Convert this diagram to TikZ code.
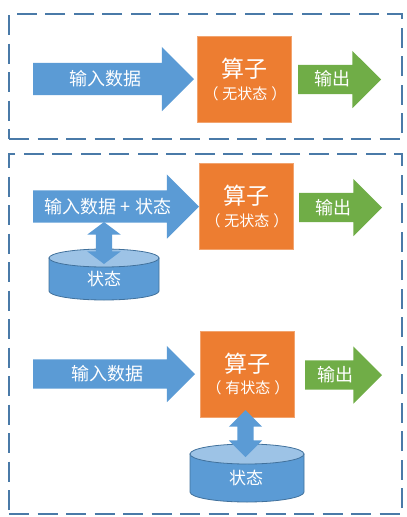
\documentclass[tikz,border=0pt]{standalone}
\usepackage{fontspec}
\setmainfont{Noto Sans CJK SC}
\usetikzlibrary{shapes.arrows}
\definecolor{inputblue}{RGB}{91,155,213}
\definecolor{capblue}{RGB}{157,195,230}
\definecolor{edgeblue}{RGB}{65,113,156}
\definecolor{framecol}{RGB}{74,122,168}
\definecolor{opfill}{RGB}{237,125,49}
\definecolor{outgreen}{RGB}{112,173,71}
\newcommand{\fs}[1]{\fontsize{#1}{#1}\selectfont}
% center x, top y, x radius, y radius, body height
\newcommand{\statedb}[5]{
  \draw[dbline,fill=inputblue] (#1-#3,#2+#4) -- ++(0,#5)
    arc[start angle=180,end angle=0,x radius=#3,y radius=#4] -- ++(0,-#5) -- cycle;
  \draw[dbline,fill=capblue] (#1,#2+#4) ellipse[x radius=#3,y radius=#4];
}
\tikzset{
  framebox/.style={draw=framecol,line width=2.2pt,dash pattern=on 20pt off 8.5pt,inner sep=0pt},
  bigarrow/.style={single arrow,anchor=tail,inner xsep=0pt,outer sep=0pt,single arrow tip angle=90},
  inarrow/.style={bigarrow,fill=inputblue},
  outarrow/.style={bigarrow,fill=outgreen},
  opbox/.style={fill=opfill,draw=opfill!70!white,line width=0.5pt,minimum width=94pt,minimum height=86pt,inner sep=0pt},
  dbline/.style={draw=edgeblue,line width=0.8pt},
  statearrow/.style={double arrow,rotate=90,fill=inputblue,inner xsep=0pt,inner ysep=8pt,outer sep=0pt,double arrow head extend=8.5pt},
  lbl/.style={text=white,inner sep=0pt},
}
\begin{document}
\begin{tikzpicture}[x=1pt,y=-1pt]
  \useasboundingbox (0,0) rectangle (407,517);
  % Dashed frames
  \node[framebox,minimum width=393pt,minimum height=125pt] (frameA) at (205.5,76.5) {};
  \node[framebox,minimum width=393pt,minimum height=360pt] (frameB) at (205.5,334) {};
  % Top row
  \node[inarrow,minimum height=161pt,inner ysep=16pt,single arrow head extend=16pt] (inA) at (33,79) {};
  \node[lbl,font=\fs{18}] (inAt) at (105,79) {输入数据};
  \node[opbox] (opA) at (244.5,79) {};
  \node[lbl,font=\fs{23}] (opAt) at (244.5,69) {算子};
  \node[lbl,font=\fs{15}] (opAs) at (245,94) {（\hspace{4pt}无状态\hspace{4pt}）};
  \node[outarrow,minimum height=83pt,inner ysep=14.5pt,single arrow head extend=14pt] (outA) at (298,79.5) {};
  \node[lbl,font=\fs{18}] (outAt) at (332,79) {输出};
  % Middle row
  \node[inarrow,minimum height=166pt,inner ysep=16pt,single arrow head extend=16pt] (inB) at (33,206.5) {};
  \node[lbl,font=\fs{18}] (inBt) at (108,207) {输入数据 + 状态};
  \node[opbox] (opB) at (246.5,206) {};
  \node[lbl,font=\fs{23}] (opBt) at (246.5,196) {算子};
  \node[lbl,font=\fs{15}] (opBs) at (247,221) {（\hspace{4pt}无状态\hspace{4pt}）};
  \node[outarrow,minimum height=83pt,inner ysep=14.5pt,single arrow head extend=14pt] (outB) at (299,207.5) {};
  \node[lbl,font=\fs{18}] (outBt) at (333,208) {输出};
  \statedb{104}{249}{55}{9}{33}
  \node[lbl,font=\fs{17}] (dbBt) at (104,279) {状态};
  \node[statearrow,minimum height=42pt,double arrow tip angle=106] (arrB) at (104,243) {};
  % Bottom row
  \node[inarrow,minimum height=162pt,inner ysep=14.5pt,single arrow head extend=13.5pt] (inC) at (33,374) {};
  \node[lbl,font=\fs{18}] (inCt) at (107,374) {输入数据};
  \node[opbox] (opC) at (247.5,374) {};
  \node[lbl,font=\fs{23}] (opCt) at (247.5,364) {算子};
  \node[lbl,font=\fs{15}] (opCs) at (248,388) {（\hspace{4pt}有状态\hspace{4pt}）};
  \node[outarrow,minimum height=77pt,inner ysep=14.5pt,single arrow head extend=14pt] (outC) at (305,375) {};
  \node[lbl,font=\fs{18}] (outCt) at (335,375) {输出};
  \statedb{247}{444}{57}{10}{38}
  \node[lbl,font=\fs{17}] (dbCt) at (246,478) {状态};
  \node[statearrow,minimum height=47pt,double arrow tip angle=90] (arrC) at (245.5,433.5) {};
\end{tikzpicture}
\end{document}
